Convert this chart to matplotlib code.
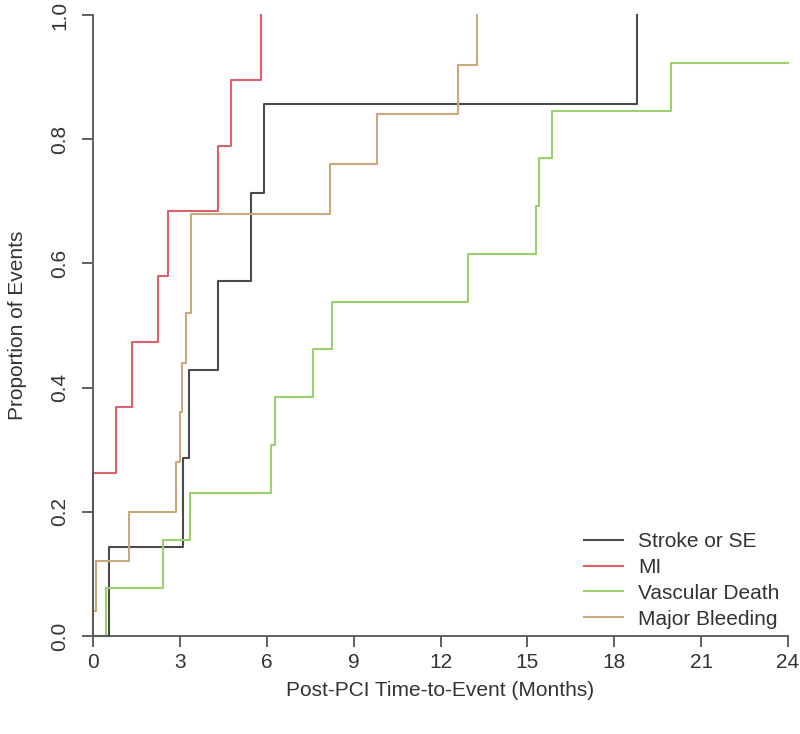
import matplotlib
matplotlib.use("Agg")
import matplotlib.pyplot as plt
import numpy as np

plt.rcParams['font.family'] = ['Liberation Sans', 'DejaVu Sans']

# event times (months) and cumulative proportion of events
stroke_t = [0.0, 0.55, 3.1, 3.3, 4.3, 5.45, 5.9, 18.8]
stroke_p = [0.0, 0.143, 0.286, 0.429, 0.571, 0.714, 0.857, 1.0]

mi_t = [0.0, 0.8, 1.35, 2.25, 2.6, 4.3, 4.75, 5.8]
mi_p = [0.263, 0.368, 0.474, 0.579, 0.684, 0.789, 0.895, 1.0]

vasc_t = [0.45, 2.4, 3.35, 6.15, 6.3, 7.6, 8.25, 12.95, 15.3, 15.4, 15.85, 19.95, 24.0]
vasc_p = [0.077, 0.154, 0.231, 0.308, 0.385, 0.462, 0.538, 0.615, 0.692, 0.769, 0.846, 0.923, 0.923]

bleed_t = [0.0, 0.1, 1.25, 2.85, 3.0, 3.08, 3.2, 3.37, 8.2, 9.8, 12.6, 13.25]
bleed_p = [0.04, 0.12, 0.2, 0.28, 0.36, 0.44, 0.52, 0.68, 0.76, 0.84, 0.92, 1.0]

labels = ["Stroke or SE", "MI", "Vascular Death", "Major Bleeding"]
colors = ["#4a4a4a", "#d9626c", "#9ccf6e", "#c9a97c"]

x_ticks = [0, 3, 6, 9, 12, 15, 18, 21, 24]
y_ticks = [0.0, 0.2, 0.4, 0.6, 0.8, 1.0]

fig = plt.figure(figsize=(8, 7.34), dpi=100)
ax = fig.add_axes([93 / 800, 98 / 734, 695 / 800, 621 / 734])

series = [(stroke_t, stroke_p), (mi_t, mi_p), (vasc_t, vasc_p), (bleed_t, bleed_p)]
for (t, p), c, lab in zip(series, colors, labels):
    tt = np.concatenate([[0.0], t])
    pp = np.concatenate([[0.0], p])
    ax.step(tt, pp, where="post", color=c, lw=1.5, label=lab, clip_on=False)

ax.set_xlim(0, 24)
ax.set_ylim(0, 1)
for s in ["top", "right"]:
    ax.spines[s].set_visible(False)
for s in ["left", "bottom"]:
    ax.spines[s].set_color("#555555")
    ax.spines[s].set_linewidth(1.3)

ax.set_xticks(x_ticks)
ax.set_xticklabels([str(v) for v in x_ticks])
ax.set_yticks(y_ticks)
ax.set_yticklabels(["%.1f" % v for v in y_ticks], rotation=90, va="center")
ax.tick_params(length=8, width=1.3, color="#555555", labelsize=15,
               labelcolor="#333333")
ax.tick_params(axis="x", pad=4)
ax.tick_params(axis="y", pad=9)

ax.set_xlabel("Post-PCI Time-to-Event (Months)", fontsize=15, color="#333333", labelpad=7)
ax.set_ylabel("Proportion of Events", fontsize=15, color="#333333", labelpad=17)

ax.legend(loc="lower left", bbox_to_anchor=(0.706, 0.012), frameon=False, fontsize=15,
          handlelength=1.9, handletextpad=0.7, labelspacing=0.33,
          borderpad=0, borderaxespad=0, labelcolor="#333333")

fig.savefig("out.png", dpi=100)
